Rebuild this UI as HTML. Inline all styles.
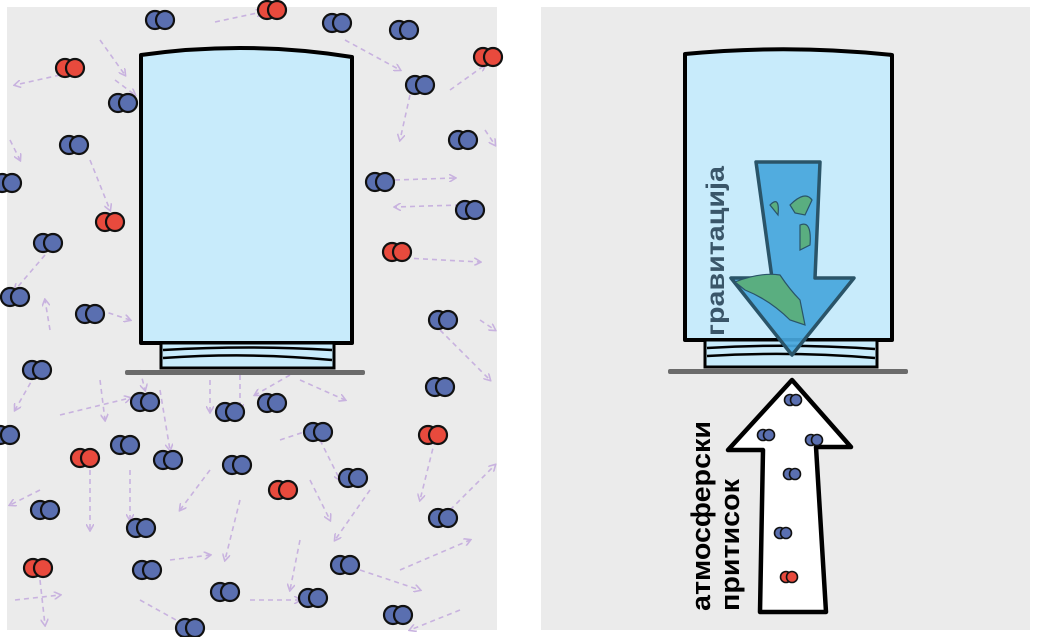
<!DOCTYPE html>
<html><head><meta charset="utf-8"><style>
html,body{margin:0;padding:0;background:#fff;width:1037px;height:637px;overflow:hidden}
svg{display:block}
</style></head><body>
<svg width="1037" height="637" viewBox="0 0 1037 637" xmlns="http://www.w3.org/2000/svg">
<defs>
<marker id="ah" markerWidth="8" markerHeight="8" refX="6" refY="4" orient="auto" markerUnits="userSpaceOnUse">
<path d="M0,0 L7,4 L0,8" fill="none" stroke="#c8b2df" stroke-width="1.6"/></marker>
<g id="mb"><circle cx="-5" cy="0" r="9" fill="#5a6fb0" stroke="#111" stroke-width="2.2"/><circle cx="5" cy="0" r="9" fill="#5a6fb0" stroke="#111" stroke-width="2.2"/></g>
<g id="mr"><circle cx="-5" cy="0" r="9" fill="#e84a3d" stroke="#111" stroke-width="2.2"/><circle cx="5" cy="0" r="9" fill="#e84a3d" stroke="#111" stroke-width="2.2"/></g>
<g id="sb"><circle cx="-3" cy="0" r="5.5" fill="#5a6fb0" stroke="#111" stroke-width="1.6"/><circle cx="3" cy="0" r="5.5" fill="#5a6fb0" stroke="#111" stroke-width="1.6"/></g>
<g id="sr"><circle cx="-3" cy="0" r="5.5" fill="#e84a3d" stroke="#111" stroke-width="1.6"/><circle cx="3" cy="0" r="5.5" fill="#e84a3d" stroke="#111" stroke-width="1.6"/></g>
</defs>
<rect x="7" y="7" width="490" height="623" fill="#ebebeb"/>
<rect x="541" y="7" width="489" height="623" fill="#ebebeb"/>
<g stroke="#c8b2df" stroke-width="1.6" stroke-dasharray="5,4" fill="none" marker-end="url(#ah)">
<path d="M215,22 L262,12"/><path d="M345,40 L400,70"/><path d="M100,40 L125,75"/><path d="M60,75 L15,85"/>
<path d="M450,90 L485,65"/><path d="M410,95 L400,140"/><path d="M115,80 L135,95"/><path d="M90,160 L110,210"/>
<path d="M10,140 L20,160"/><path d="M395,180 L455,178"/><path d="M460,205 L395,207"/><path d="M485,130 L495,145"/>
<path d="M45,255 L15,290"/><path d="M405,258 L480,262"/><path d="M100,310 L130,320"/><path d="M50,330 L45,300"/>
<path d="M440,330 L490,380"/><path d="M480,320 L495,330"/><path d="M35,375 L15,410"/><path d="M60,415 L130,398"/>
<path d="M160,390 L170,450"/><path d="M210,380 L210,412"/><path d="M300,380 L345,400"/><path d="M290,375 L255,395"/>
<path d="M240,375 L240,410"/><path d="M140,370 L145,390"/><path d="M100,380 L105,420"/><path d="M280,440 L310,430"/>
<path d="M435,440 L420,500"/><path d="M210,470 L180,510"/><path d="M130,470 L130,520"/><path d="M320,440 L340,480"/>
<path d="M90,470 L90,530"/><path d="M40,490 L10,505"/><path d="M450,510 L495,465"/><path d="M370,490 L335,540"/>
<path d="M310,480 L330,520"/><path d="M240,500 L225,560"/><path d="M300,540 L290,590"/><path d="M170,560 L210,555"/>
<path d="M40,580 L45,625"/><path d="M360,570 L420,590"/><path d="M400,570 L470,540"/><path d="M250,600 L300,600"/>
<path d="M140,600 L185,625"/><path d="M460,610 L410,630"/><path d="M15,600 L60,595"/>
<path d="M795,410 L790,440"/><path d="M783,495 L770,505"/><path d="M790,510 L808,495"/><path d="M770,500 L795,520"/><path d="M770,590 L775,603"/><path d="M797,610 L810,600"/>
</g>
<!-- left cup -->
<path d="M141,55 Q246,40 352,57 L352,343 L141,343 Z" fill="#c8ebfb" stroke="#000" stroke-width="4" stroke-linejoin="round"/>
<rect x="161" y="343" width="173" height="25" fill="#c8ebfb" stroke="#000" stroke-width="3"/>
<path d="M163,350 Q250,345 332,350 M163,358 Q250,352 332,360" stroke="#000" stroke-width="2.5" fill="none"/>
<rect x="125" y="370" width="240" height="5" rx="2" fill="#6b6b6b"/>
<!-- right cup -->
<path d="M685,54 Q788,44 892,55 L892,340 L685,340 Z" fill="#c8ebfb" stroke="#000" stroke-width="4" stroke-linejoin="round"/>
<rect x="705" y="340" width="172" height="27" fill="#c8ebfb" stroke="#000" stroke-width="3"/>
<path d="M707,348 Q790,343 875,349 M707,356 Q790,351 875,358" stroke="#000" stroke-width="2.5" fill="none"/>
<rect x="668" y="369" width="240" height="5" rx="2" fill="#6b6b6b"/>
<!-- blue earth arrow -->
<path d="M756,162 L820,162 L815,278 L854,278 L792,355 L731,278 L772,278 Z" fill="#46a6dc" fill-opacity="0.92" stroke="#2a5468" stroke-width="3.5" stroke-linejoin="round"/>
<path d="M770,205 Q780,195 778,215 Z M790,205 Q805,190 812,200 L805,215 L795,213 Z M800,225 Q812,220 810,245 L800,250 Z M735,282 Q760,272 780,275 Q790,290 800,300 L805,325 L790,320 Q770,300 745,290 Z" fill="#5aae80" stroke="#2a5468" stroke-width="1.2"/>
<!-- up arrow -->
<path d="M792,380 L851,447 L816,447 L826,612 L760,612 L763,450 L728,450 Z" fill="#fff" stroke="#000" stroke-width="4.5" stroke-linejoin="round"/>
<text transform="translate(724,336) rotate(-90)" font-family="Liberation Sans, DejaVu Sans, sans-serif" font-size="25" font-weight="bold" fill="#3a5669" textLength="170" lengthAdjust="spacingAndGlyphs">гравитација</text>
<text transform="translate(710,611) rotate(-90)" font-family="Liberation Sans, DejaVu Sans, sans-serif" font-size="27" font-weight="bold" fill="#000" textLength="190" lengthAdjust="spacingAndGlyphs">атмосферски</text>
<text transform="translate(739,611) rotate(-90)" font-family="Liberation Sans, DejaVu Sans, sans-serif" font-size="27" font-weight="bold" fill="#000" textLength="132" lengthAdjust="spacingAndGlyphs">притисок</text>
<!-- molecules left -->
<use href="#mb" x="160" y="20"/><use href="#mr" x="272" y="10"/><use href="#mb" x="337" y="23"/><use href="#mb" x="404" y="30"/>
<use href="#mr" x="70" y="68"/><use href="#mr" x="488" y="57"/><use href="#mb" x="123" y="103"/><use href="#mb" x="420" y="85"/>
<use href="#mb" x="74" y="145"/><use href="#mb" x="463" y="140"/><use href="#mb" x="7" y="183"/><use href="#mb" x="380" y="182"/>
<use href="#mr" x="110" y="222"/><use href="#mb" x="470" y="210"/><use href="#mb" x="48" y="243"/><use href="#mr" x="397" y="252"/>
<use href="#mb" x="15" y="297"/><use href="#mb" x="90" y="314"/><use href="#mb" x="443" y="320"/><use href="#mb" x="37" y="370"/>
<use href="#mb" x="440" y="387"/><use href="#mb" x="145" y="402"/><use href="#mb" x="230" y="412"/><use href="#mb" x="272" y="403"/>
<use href="#mb" x="5" y="435"/><use href="#mb" x="125" y="445"/><use href="#mr" x="85" y="458"/><use href="#mb" x="318" y="432"/>
<use href="#mr" x="433" y="435"/><use href="#mb" x="168" y="460"/><use href="#mb" x="237" y="465"/><use href="#mr" x="283" y="490"/>
<use href="#mb" x="353" y="478"/><use href="#mb" x="45" y="510"/><use href="#mb" x="141" y="528"/><use href="#mb" x="443" y="518"/>
<use href="#mr" x="38" y="568"/><use href="#mb" x="147" y="570"/><use href="#mb" x="345" y="565"/><use href="#mb" x="225" y="592"/>
<use href="#mb" x="313" y="598"/><use href="#mb" x="398" y="615"/><use href="#mb" x="190" y="628"/>
<!-- molecules right -->
<use href="#sb" x="793" y="400"/><use href="#sb" x="766" y="435"/><use href="#sb" x="814" y="440"/><use href="#sb" x="792" y="474"/>
<use href="#sb" x="783" y="533"/><use href="#sr" x="789" y="577"/>
</svg>
</body></html>
